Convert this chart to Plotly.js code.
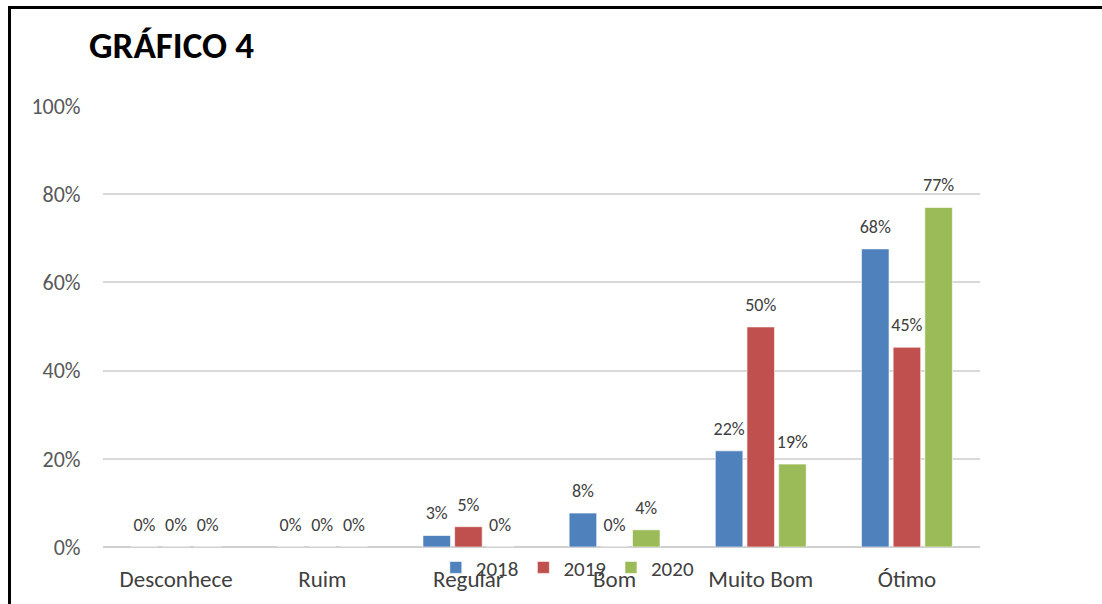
<!DOCTYPE html>
<html>
<head>
<meta charset="utf-8">
<script src="https://cdn.plot.ly/plotly-3.0.1.min.js"></script>
<style>
  html, body { margin: 0; padding: 0; background: #fff; }
  #wrap { position: relative; width: 1102px; height: 604px; overflow: hidden; }
  #frame { position: absolute; left: 8px; top: 6px; width: 1200px; height: 700px;
           border-left: 3px solid #000; border-top: 3px solid #000; pointer-events: none; }
  #chart { position: absolute; left: 0; top: 0; width: 1102px; height: 604px; }
</style>
</head>
<body>
<div id="wrap">
  <div id="chart"></div>
  <div id="frame"></div>
</div>
<script>
const categories = ["Desconhece", "Ruim", "Regular", "Bom", "Muito Bom", "Ótimo"];
const seriesNames = ["2018", "2019", "2020"];
const values2018 = [0, 0, 0.026, 0.077, 0.218, 0.676];
const values2019 = [0, 0, 0.046, 0, 0.499, 0.453];
const values2020 = [0, 0, 0, 0.039, 0.188, 0.770];
const yTickVals = [0, 0.2, 0.4, 0.6, 0.8, 1.0];
const colors = ["#4F81BD", "#C0504D", "#9BBB59"];

const FONT = "Carlito, Calibri, 'Open Sans', sans-serif";
const allValues = [values2018, values2019, values2020];
const GAP = 0.35;

const barTraces = allValues.map((vals, i) => ({
  type: "bar",
  name: seriesNames[i],
  x: categories,
  y: vals,
  offsetgroup: String(i),
  marker: { color: colors[i], line: { color: "rgba(255,255,255,0.6)", width: 1 } },
  hoverinfo: "x+y+name"
}));

// data labels: invisible markers sized to lift the text above each bar
const labelTraces = allValues.map((vals, i) => ({
  type: "scatter",
  mode: "markers+text",
  x: categories,
  y: vals,
  offsetgroup: String(i),
  showlegend: false,
  marker: { size: 17, color: "rgba(0,0,0,0)" },
  texttemplate: "%{y:.0%}",
  textposition: "top center",
  cliponaxis: false,
  textfont: { family: FONT, size: 18, color: "#404040" },
  hoverinfo: "skip"
}));

const layout = {
  width: 1102,
  height: 604,
  margin: { l: 103, r: 122, t: 106, b: 57 },
  paper_bgcolor: "rgba(0,0,0,0)",
  plot_bgcolor: "#fff",
  barmode: "group",
  bargap: GAP,
  bargroupgap: 0.13,
  scattermode: "group",
  scattergap: GAP,
  title: {
    text: "<b>GRÁFICO 4</b>",
    font: { family: FONT, size: 37, color: "#000" },
    x: 89 / 1102, xanchor: "left", xref: "container",
    y: 1 - 45 / 604, yanchor: "middle", yref: "container"
  },
  xaxis: {
    type: "category",
    showgrid: false,
    showline: false,
    zeroline: false,
    ticks: "outside",
    ticklen: 11,
    tickcolor: "rgba(0,0,0,0)",
    tickfont: { family: FONT, size: 23, color: "#404040" }
  },
  yaxis: {
    range: [0, 1],
    tickvals: yTickVals,
    tickformat: ".0%",
    showgrid: true,
    gridcolor: "#d9d9d9",
    gridwidth: 2,
    zeroline: true,
    zerolinecolor: "#d0d0d0",
    zerolinewidth: 2,
    showline: false,
    ticks: "outside",
    ticklen: 17,
    tickcolor: "rgba(0,0,0,0)",
    tickfont: { family: FONT, size: 22, color: "#595959" }
  },
  showlegend: true,
  legend: {
    orientation: "h",
    x: 0.53, xanchor: "center",
    y: -0.047, yanchor: "middle",
    bgcolor: "rgba(0,0,0,0)",
    font: { family: FONT, size: 21, color: "#404040" },
    itemwidth: 30,
    traceorder: "normal"
  }
};

Plotly.newPlot("chart", barTraces.concat(labelTraces), layout, { displayModeBar: false, staticPlot: true });
</script>
</body>
</html>
